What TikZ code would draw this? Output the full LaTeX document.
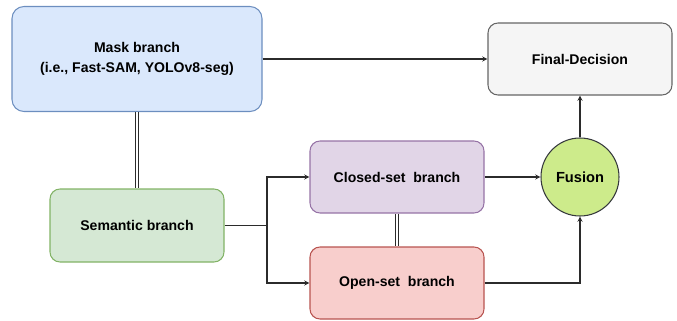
\documentclass[tikz,border=0pt]{standalone}
\usepackage{xcolor}
\usepackage{tikz}
\usepackage{fontspec}
\setmainfont{Liberation Sans}
\usetikzlibrary{shapes.geometric, arrows, positioning, calc}

\definecolor{maskfill}{HTML}{DAE8FC}
\definecolor{maskline}{HTML}{6C8EBF}
\definecolor{semfill}{HTML}{D5E8D4}
\definecolor{semline}{HTML}{82B366}
\definecolor{closedfill}{HTML}{E1D5E7}
\definecolor{closedline}{HTML}{9673A6}
\definecolor{openfill}{HTML}{F8CECC}
\definecolor{openline}{HTML}{B85450}
\definecolor{finalfill}{HTML}{F5F5F5}
\definecolor{finalline}{HTML}{666666}
\definecolor{fusionfill}{HTML}{CDEB8B}
\definecolor{fusionline}{HTML}{36393D}
\definecolor{wire}{HTML}{2B2B2B}

\tikzset{
    branchbox/.style={rectangle,draw,line width=0.9pt,rounded corners=0.3cm,
        minimum width=5.22cm,minimum height=2.16cm,align=center,
        font=\fontsize{12}{17}\selectfont\bfseries},
    flow/.style={draw=wire,line width=1pt,-stealth},
    link/.style={draw=wire,line width=0.8pt,double,double distance=1.6pt}
}

\begin{document}
\begin{tikzpicture}
    \useasboundingbox (0,0) rectangle (20.31,9.6);
    % Rami di ingresso
    \node[branchbox,draw=maskline,fill=maskfill,minimum width=7.5cm,minimum height=3.15cm,rounded corners=0.36cm] (mask) at (4.11,7.83) {
        Mask branch \\
        (i.e., Fast-SAM, YOLOv8-seg)
    };
    \node[branchbox,draw=semline,fill=semfill,minimum height=2.19cm] (sem) at (4.11,2.835) {Semantic branch};
    \node[branchbox,draw=closedline,fill=closedfill] (closed) at (11.91,4.29) {Closed-set\ \ branch};
    \node[branchbox,draw=openline,fill=openfill] (open) at (11.91,1.11) {Open-set\ \ branch};
    % Fusione e decisione
    \node[circle,draw=fusionline,fill=fusionfill,line width=0.9pt,minimum size=2.34cm,font=\fontsize{12.5}{15}\selectfont\bfseries] (fusion) at (17.4,4.29) {Fusion};
    \node[branchbox,draw=finalline,fill=finalfill,minimum width=5.52cm] (final) at (17.4,7.83) {Final-Decision};
    \coordinate (split) at (8.01,2.835);

    % Collegamenti
    \draw[link] (mask) -- (sem);
    \draw[link] (closed) -- (open);
    \draw[flow] (mask) -- (final);
    \draw[draw=wire,line width=1pt] (sem) -- (split);
    \draw[flow] (split) |- (closed);
    \draw[flow] (split) |- (open);
    \draw[flow] (closed) -- (fusion);
    \draw[flow] (open) -| (fusion);
    \draw[flow] (fusion) -- (final);
\end{tikzpicture}
\end{document}
